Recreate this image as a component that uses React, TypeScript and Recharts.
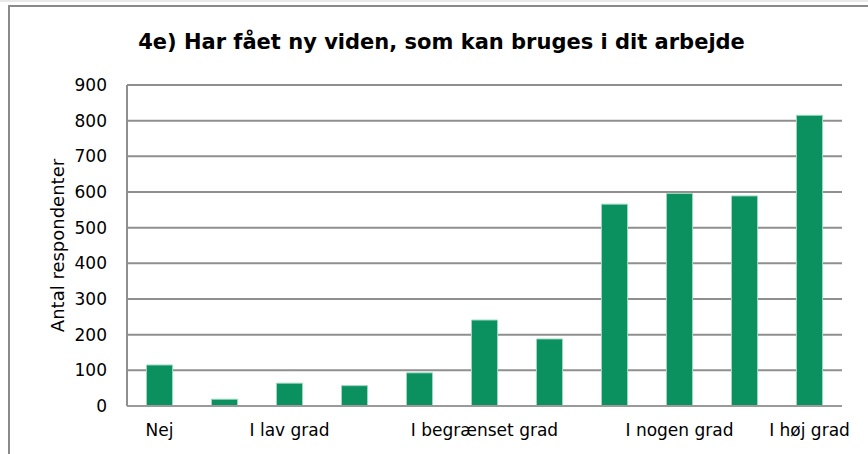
import { Bar, BarChart, CartesianGrid, XAxis, YAxis, Label } from "recharts";

const categories = ["0", "1", "2", "3", "4", "5", "6", "7", "8", "9", "10"];
const respondents = [115, 19, 64, 57, 93, 241, 188, 566, 596, 589, 815];
const tickLabels = ["Nej", "", "I lav grad", "", "", "I begrænset grad", "", "", "I nogen grad", "", "I høj grad"];
const yTicks = [0, 100, 200, 300, 400, 500, 600, 700, 800, 900];

const data = categories.map((c, i) => ({ step: c, value: respondents[i] }));

const font = "'DejaVu Sans', Verdana, sans-serif";

export default function App() {
  return (
    <div style={{ position: "fixed", left: 0, top: 0, width: 868, height: 454, background: "#fff", overflow: "hidden", fontFamily: font }}>
      <div style={{ position: "absolute", left: 0, top: 0, width: 868, height: 2, background: "#e8e8e8" }} />
      <div style={{ position: "absolute", left: 8, top: 5, width: 900, height: 500, borderTop: "2px solid #8a8a8a", borderLeft: "2px solid #8a8a8a" }} />
      <div style={{ position: "absolute", left: 0, width: 883, top: 30, textAlign: "center", fontWeight: "bold", fontSize: 21, color: "#000", whiteSpace: "nowrap" }}>
        4e) Har fået ny viden, som kan bruges i dit arbejde
      </div>
      <div style={{ position: "absolute", left: 0, top: 0 }}>
        <BarChart width={868} height={454} data={data} margin={{ top: 85, right: 26, left: 0, bottom: 0 }} barCategoryGap="30%">
          <CartesianGrid vertical={false} stroke="#8f8f8f" strokeWidth={2} />
          <XAxis
            dataKey="step"
            interval={0}
            tickLine={false}
            axisLine={{ stroke: "#9a9a9a", strokeWidth: 2 }}
            height={48}
            tickMargin={12}
            tickFormatter={(v: string) => tickLabels[Number(v)]}
            tick={{ fill: "#000", fontSize: 17, fontFamily: font }}
          />
          <YAxis
            width={127}
            domain={[0, 900]}
            ticks={yTicks}
            interval={0}
            tickLine={false}
            axisLine={{ stroke: "#8f8f8f", strokeWidth: 2 }}
            tickMargin={14}
            tick={{ fill: "#000", fontSize: 17, fontFamily: font }}
          >
            <Label value="Antal respondenter" angle={-90} position="insideLeft" offset={58} style={{ textAnchor: "middle", fill: "#000", fontSize: 18, fontFamily: font }} />
          </YAxis>
          <Bar dataKey="value" fill="#0b9060" stroke="#9ad8bf" strokeWidth={1} isAnimationActive={false} />
        </BarChart>
      </div>
    </div>
  );
}
